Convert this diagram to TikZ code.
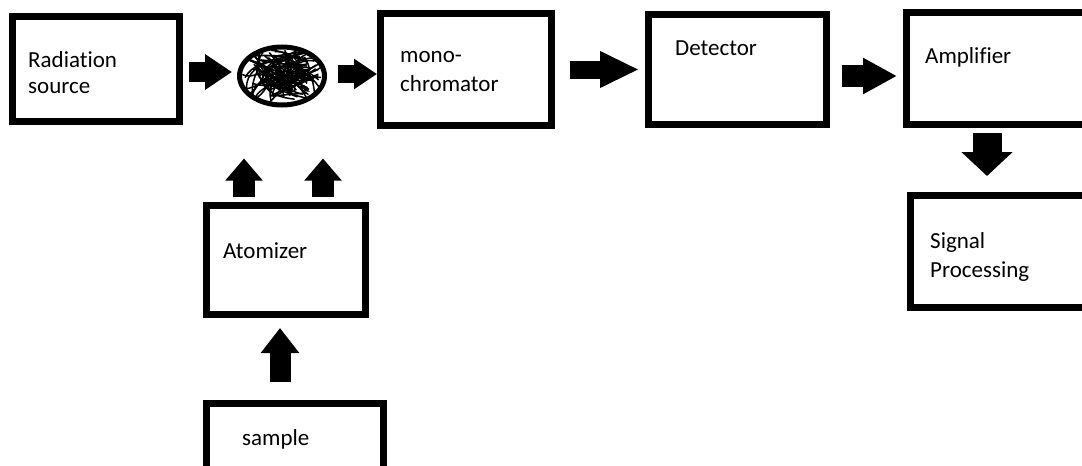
\documentclass[tikz,border=0pt]{standalone}
\usepackage{fontspec}
\setmainfont[Ligatures=NoCommon]{Carlito}
\usetikzlibrary{arrows.meta,shapes.geometric}
\begin{document}
\begin{tikzpicture}[x=1pt,y=-1pt,
  box/.style n args={2}{draw, rectangle, line width=7pt, inner sep=0pt,
    minimum width=#1, minimum height=#2},
  lbl/.style={anchor=base west, inner sep=0pt, font=\fontsize{23}{28}\selectfont},
  fat/.style n args={3}{line width=#1, -{Triangle[length=#2,width=#3]}}]
\useasboundingbox (0,0) rectangle (1082,466);
\clip (0,0) rectangle (1082,466);

% blocks
\node[box={167pt}{105pt}] (rad)    at (96,69)     {};
\node[draw, ellipse, line width=5pt, inner sep=0pt,
      minimum width=85pt, minimum height=58pt] (cell) at (282,76) {};
\node[box={171pt}{112pt}] (mono)   at (466,69.5)  {};
\node[box={178pt}{110pt}] (det)    at (737.5,69.5){};
\node[box={193pt}{112pt}] (amp)    at (1003,68.5) {};
\node[box={189pt}{112pt}] (sig)    at (1005,251.5){};
\node[box={159pt}{109pt}] (atom)   at (286,260)   {};
\node[box={177pt}{77pt}]  (sample) at (295,442)   {};

% scribbled flame inside the cell
\begin{scope}
  \clip (cell.center) ellipse [x radius=42pt, y radius=29pt];
  \pgfmathsetseed{11}
  \foreach \i in {1,...,62}{
    \pgfmathsetmacro{\ax}{282+40*rand}\pgfmathsetmacro{\ay}{76+27*rand}
    \pgfmathsetmacro{\bx}{282+40*rand}\pgfmathsetmacro{\by}{76+27*rand}
    \pgfmathsetmacro{\cx}{282+40*rand}\pgfmathsetmacro{\cy}{76+27*rand}
    \pgfmathsetmacro{\dx}{282+40*rand}\pgfmathsetmacro{\dy}{76+27*rand}
    \draw[line width=1.5pt] (\ax,\ay) .. controls (\bx,\by) and (\cx,\cy) .. (\dx,\dy);
  }
\end{scope}

% labels
\node[lbl] (t1a) at (28,67)   {Radiation};
\node[lbl] (t1b) at (28,93)   {source};
\node[lbl] (t2a) at (400,62)  {mono-};
\node[lbl] (t2b) at (400,91)  {chromator};
\node[lbl] (t3)  at (675,55)  {Detector};
\node[lbl] (t4)  at (925,63)  {Amplifier};
\node[lbl] (t5a) at (930,248) {Signal};
\node[lbl] (t5b) at (930,277) {Processing};
\node[lbl] (t6)  at (223,258) {Atomizer};
\node[lbl] (t7)  at (242,445) {sample};

% block arrows
\coordinate (r1) at ([yshift=-3pt]rad.east);
\draw[fat={20pt}{27pt}{34pt}, shorten <=5.5pt, shorten >=5pt] (r1) -- (r1 -| cell.west);
\coordinate (c1) at ([yshift=2pt]cell.east);
\draw[fat={18pt}{23pt}{29pt}, shorten <=11pt] (c1) -- (c1 -| mono.west);
\coordinate (m1) at (mono.east);
\draw[fat={18pt}{39pt}{34pt}, shorten <=15pt, shorten >=6pt] (m1) -- (m1 -| det.west);
\coordinate (d1) at ([yshift=-6.5pt]det.east);
\draw[fat={22pt}{34pt}{34pt}, shorten <=12pt, shorten >=6pt] (d1) -- (d1 -| amp.west);
\coordinate (a1) at ([xshift=-16pt]amp.south);
\draw[fat={29pt}{24pt}{50pt}, shorten <=5pt, shorten >=16pt] (a1) -- (a1 |- sig.north);
\coordinate (u1) at ([xshift=-42pt]atom.north);
\draw[fat={22pt}{22pt}{36pt}, shorten <=5pt, shorten >=51pt] (u1) -- (u1 |- cell.south);
\coordinate (u2) at ([xshift=37pt]atom.north);
\draw[fat={22pt}{22pt}{36pt}, shorten <=5pt, shorten >=51pt] (u2) -- (u2 |- cell.south);
\coordinate (s1) at ([xshift=-15pt]sample.north);
\draw[fat={21pt}{25pt}{37pt}, shorten <=18pt, shorten >=10pt] (s1) -- (s1 |- atom.south);
\end{tikzpicture}
\end{document}
